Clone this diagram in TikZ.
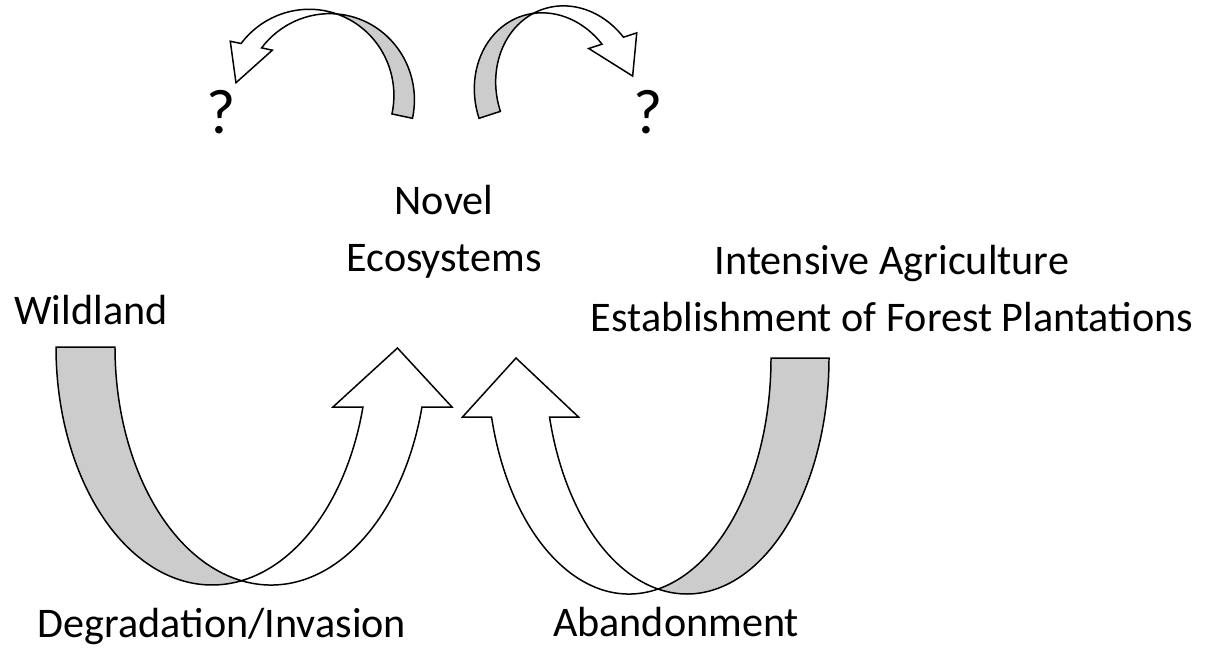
\documentclass[tikz,border=0pt]{standalone}
\usepackage{fontspec}
\setmainfont{Carlito}

% curved band arrow: rx, ry, width, head depth, head overhang, tip dx, tip depth
\newcommand{\bentarrow}[7]{%
  \pgfmathsetmacro{\angX}{acos(#3/(2*#1))}%
  \pgfmathsetmacro{\angH}{asin(#4/#2)}%
  \pgfmathsetmacro{\xH}{#1+#1*cos(\angH)}%
  \filldraw[back] (0,0)
    arc[start angle=180, end angle=\angX, x radius=#1, y radius=#2]
    arc[start angle=180-\angX, end angle=180, x radius=#1, y radius=#2] -- cycle;
  \filldraw[front] ({#1+#3/2},{#2*sin(\angX)})
    arc[start angle=180-\angX, end angle=\angH, x radius=#1, y radius=#2]
    -- ++(#5,0) -- ({\xH+#3/2+#6},#7) -- ({\xH-#5},#4) -- (\xH,#4)
    arc[start angle=\angH, end angle=\angX, x radius=#1, y radius=#2] -- cycle;
}

\tikzset{
  back/.style={draw, fill=gray!40, line width=0.85pt},
  front/.style={draw, fill=white, line width=0.85pt},
  lbl/.style={font=\fontsize{24}{32}\selectfont, inner sep=0pt, align=center, anchor=base},
  qmark/.style={font=\fontsize{36}{40}\selectfont, inner sep=0pt, anchor=base},
}

\begin{document}
\begin{tikzpicture}[x=0.02cm, y=-0.02cm]
\useasboundingbox (0,0) rectangle (1213,647);

% lower arrows
\begin{scope}[shift={(56,347)}]
  \bentarrow{156}{238}{59}{60}{30}{5}{1}
\end{scope}
\begin{scope}[shift={(829,358)}, xscale=-1]
  \bentarrow{142}{236}{58}{59}{29}{4.5}{0}
\end{scope}

% upper arrows
\begin{scope}[shift={(479,118.3)}, rotate=18, yscale=-1]
  \bentarrow{72.8}{84}{22.5}{32.5}{14}{8}{-7.3}
\end{scope}
\begin{scope}[shift={(412.5,118.3)}, rotate=-12, xscale=-1, yscale=-1]
  \bentarrow{85.3}{87}{21}{37.5}{11}{7.3}{-1.9}
\end{scope}

\node[qmark] (q1) at (221,133) {?};
\node[qmark] (q2) at (648,133) {?};
\node[lbl] (novel) at (444,271) {Novel\\Ecosystems};
\node[lbl] (wild) at (91,324) {Wildland};
\node[lbl] (intens) at (892,331) {Intensive Agriculture\\Establishment of Forest Plantations};
\node[lbl] (degr) at (222,637) {Degradation/Invasion};
\node[lbl] (aband) at (676,636) {Abandonment};

\end{tikzpicture}
\end{document}
